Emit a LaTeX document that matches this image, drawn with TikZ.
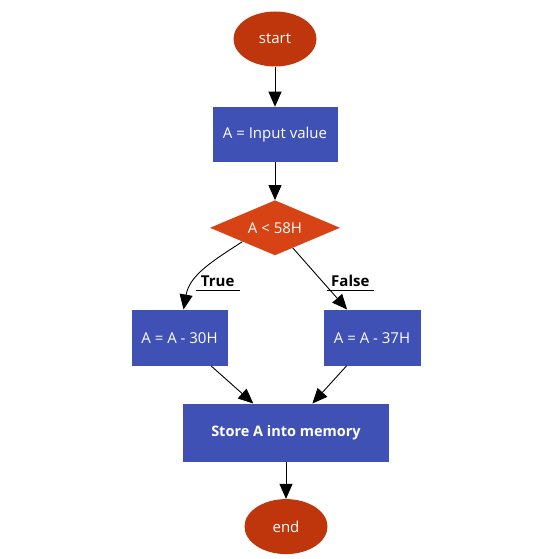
\documentclass[tikz,border=0pt]{standalone}
\usepackage{fontspec}
\setmainfont{Open Sans}
\usepackage{tikz}
\usetikzlibrary{
  shapes.geometric,
  arrows.meta,
  positioning, calc
}
\usepackage{xcolor}
\definecolor{TermRed}{RGB}{191,54,12}
\definecolor{DecOrange}{RGB}{216,67,21}
\definecolor{ProcBlue}{RGB}{63,81,181}
\tikzset{
  basenode/.style={align=center,text=white,inner sep=2pt,
    font=\fontsize{15pt}{18pt}\selectfont},
  termnode/.style={basenode,ellipse,fill=TermRed,
    minimum width=83pt,minimum height=55pt},
  procnode/.style={basenode,rectangle,fill=ProcBlue,
    minimum height=56pt},
  decnode/.style={basenode,diamond,aspect=2.4,fill=DecOrange,inner sep=0pt,
    minimum width=130pt,minimum height=55pt},
  edgelabel/.style={font=\bfseries\fontsize{15pt}{18pt}\selectfont,
    inner xsep=0pt,inner ysep=1pt,text depth=3pt},
  arrow/.style={-{Triangle[length=15pt,width=13pt]},line width=0.9pt,color=black}
}

\begin{document}
\begin{tikzpicture}[node distance=40pt]
  \useasboundingbox (0,0) rectangle (558pt,-559pt);
  \node[termnode] (start) at (275pt,-39pt) {start};
  \node[procnode,minimum width=125pt,minimum height=55pt,below=40pt of start] (input) {A = Input value};
  \node[decnode,below=38pt of input] (dec) {A < 58H};
  \node[procnode,minimum width=96pt,below=54pt of dec,xshift=-95.5pt] (sub30) {A = A - 30H};
  \node[procnode,minimum width=97pt,below=54pt of dec,xshift=97pt] (sub37) {A = A - 37H};
  \node[procnode,minimum width=206pt,minimum height=58pt,below=148pt of dec,xshift=11pt,
    font=\bfseries\fontsize{14.5pt}{17pt}\selectfont] (store) {Store A into memory};
  \node[termnode,below=37pt of store] (end) {end};
  % branch labels
  \node[edgelabel,minimum width=44pt,above right=19pt and 16pt of sub30.north] (ltrue) {True};
  \node[edgelabel,minimum width=46pt,above left=19pt and -1.5pt of sub37.north] (lfalse) {False};
  \draw[line width=0.9pt] (ltrue.south west) -- (ltrue.south east);
  \draw[line width=0.9pt] (lfalse.south west) -- (lfalse.south east);
  \foreach \a/\b in {start/input,input/dec,dec/sub37,sub30/store,sub37/store,store/end}
    \draw[arrow] (\a)--(\b);
  \draw[arrow] (dec.south west) to[out=213,in=80] ([xshift=4pt]sub30.north);
\end{tikzpicture}
\end{document}
